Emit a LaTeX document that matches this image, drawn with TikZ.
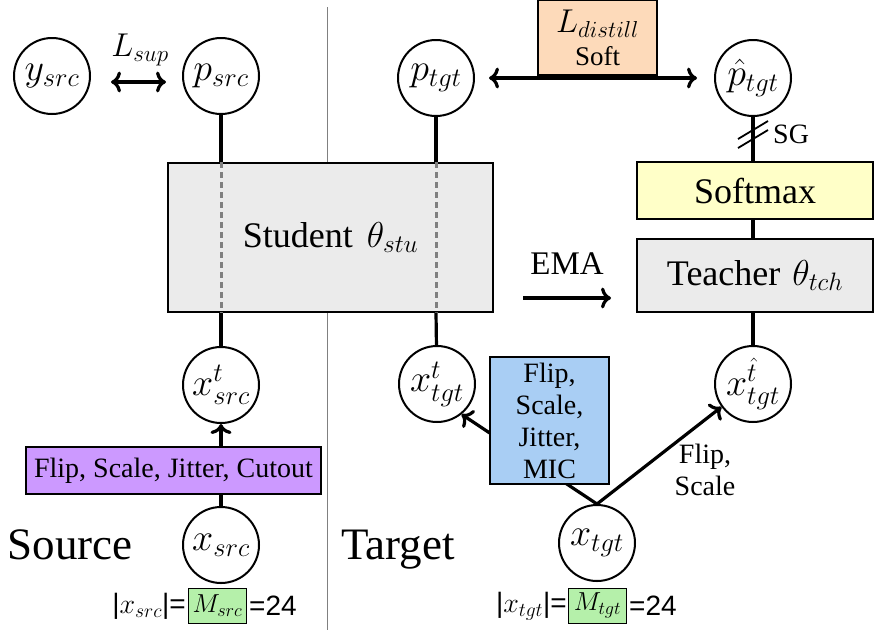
\documentclass[tikz,border=0pt]{standalone}
\usepackage{fix-cm}
\usepackage{fontspec}
\setmainfont{Liberation Serif}
\newfontfamily\sansf{Liberation Sans}
\usetikzlibrary{arrows.meta}

\definecolor{boxgray}{RGB}{235,235,235}
\definecolor{softyellow}{RGB}{255,255,200}
\definecolor{lossorange}{RGB}{253,218,186}
\definecolor{augpurple}{RGB}{204,153,255}
\definecolor{augblue}{RGB}{169,206,244}
\definecolor{mgreen}{RGB}{181,240,170}

\begin{document}
\begin{tikzpicture}[x=1pt, y=-1pt,
    >={To[length=10pt,width=21pt]},
    var/.style = {circle, draw, line width=2pt, minimum size=76pt, inner sep=0pt, font=\fontsize{38}{40}\selectfont},
    net/.style = {draw, line width=1.3pt, fill=boxgray, inner sep=0pt, font=\fontsize{36}{40}\selectfont},
    aug/.style = {draw, line width=1.3pt, inner sep=0pt, align=center, font=\fontsize{28}{32}\selectfont},
    mbox/.style = {draw, line width=1pt, fill=mgreen, inner sep=0pt, minimum width=58pt, minimum height=35pt, font=\fontsize{26}{28}\selectfont},
    conn/.style = {line width=3.2pt},
    insidedash/.style = {line width=3pt, gray, dash pattern=on 6pt off 4pt},
    lbl/.style = {inner sep=0pt, font=\fontsize{28}{32}\selectfont},
    sizetxt/.style = {inner sep=1pt, font=\sansf\fontsize{28}{30}\selectfont}]
    \useasboundingbox (0,0) rectangle (883,630);
    \draw[gray, line width=1pt] (327,7) -- (327,630);

    % outputs and inputs
    \node[var] (ysrc) at (52,76) {$y_{src}$};
    \node[var] (psrc) at (221,76) {$p_{src}$};
    \node[var] (ptgt) at (436,78) {$p_{tgt}$};
    \node[var] (phat) at (753,78) {$\hat{p}_{tgt}$};
    \node[var] (xtsrc) at (221,385) {$x^{t}_{src}$};
    \node[var] (xttgt) at (437,384) {$x^{t}_{tgt}$};
    \node[var] (xhtgt) at (753,384) {$x^{\hat{t}}_{tgt}$};
    \node[var] (xsrc) at (221,545) {$x_{src}$};
    \node[var] (xtgt) at (597,543) {$x_{tgt}$};

    % networks
    \node[net, minimum width=325pt, minimum height=149pt] (stu) at (330.5,237.5) {Student\hspace{14pt}$\theta_{stu}$};
    \node[net, fill=softyellow, minimum width=236pt, minimum height=57pt] (soft) at (755,190.5) {Softmax};
    \node[net, minimum width=236pt, minimum height=73pt] (tch) at (755,275.5) {Teacher\hspace{12pt}$\theta_{tch}$};
    \node[draw, fill=lossorange, line width=1.3pt, minimum width=119pt, minimum height=75pt, inner sep=0pt, align=center, font=\fontsize{27}{33}\selectfont] (dist) at (597.5,37.5) {{\fontsize{33}{36}\selectfont$L_{distill}$}\\Soft};

    % losses
    \draw[<->, conn, shorten <=20pt, shorten >=16pt] ([yshift=-6pt]ysrc.east) -- ([yshift=-6pt]psrc.west);
    \node[lbl, font=\fontsize{33}{36}\selectfont] (lsup) at (140,50) {$L_{sup}$};
    \draw[<->, conn, shorten <=14pt, shorten >=17pt] (ptgt) -- (phat);

    % student paths
    \draw[conn] (psrc) -- (psrc |- stu.north);
    \draw[insidedash] (psrc |- stu.north) -- (psrc |- stu.south);
    \draw[conn] (psrc |- stu.south) -- (xtsrc);
    \draw[conn] (ptgt) -- (ptgt |- stu.north);
    \draw[insidedash] (ptgt |- stu.north) -- (ptgt |- stu.south);
    \draw[conn] (ptgt |- stu.south) -- (xttgt);

    % teacher path
    \draw[conn] (phat) -- (phat |- soft.north);
    \draw[conn] (phat |- soft.south) -- (phat |- tch.north);
    \draw[conn] (phat |- tch.south) -- (xhtgt);
    \draw[line width=1.8pt] (738,139) -- (768,121);
    \draw[line width=1.8pt] (738,148) -- (768,130);
    \node[lbl, anchor=west] (sg) at (773,134) {SG};

    % EMA update
    \coordinate (emaA) at (523,298);
    \coordinate (emaB) at (611,298);
    \draw[->, conn] (emaA) -- (emaB);
    \node[lbl, font=\fontsize{33}{36}\selectfont] (ema) at (567,264) {EMA};

    % augmentations
    \draw[->, conn] (xsrc) -- (xtsrc);
    \node[aug, fill=augpurple, minimum width=295pt, minimum height=47pt] (augsrc) at (173.5,470.5) {Flip, Scale, Jitter, Cutout};
    \draw[->, conn] (xtgt.north) -- (xttgt.-51);
    \draw[->, conn] (xtgt.north) -- (xhtgt.-144);
    \node[aug, fill=augblue, minimum width=119pt, minimum height=127pt] (augtgt) at (549.5,420.5) {Flip,\\Scale,\\Jitter,\\MIC};
    \node[lbl, align=center] (flipscale) at (705,470) {Flip,\\Scale};

    % domains
    \node[anchor=base, inner sep=0pt, font=\fontsize{45}{48}\selectfont] (srclbl) at (70,559) {Source};
    \node[anchor=base, inner sep=0pt, font=\fontsize{45}{48}\selectfont] (tgtlbl) at (398,559) {Target};

    % sample counts
    \node[sizetxt, anchor=east] (szsrc) at (187,606) {|$x_{src}$|=};
    \node[mbox] (msrc) at (217.5,605.5) {$M_{src}$};
    \node[sizetxt, anchor=west] (nsrc) at (248,606) {=24};
    \node[sizetxt, anchor=east] (sztgt) at (568,606) {|$x_{tgt}$|=};
    \node[mbox] (mtgt) at (597.5,605.5) {$M_{tgt}$};
    \node[sizetxt, anchor=west] (ntgt) at (628,606) {=24};
\end{tikzpicture}
\end{document}
